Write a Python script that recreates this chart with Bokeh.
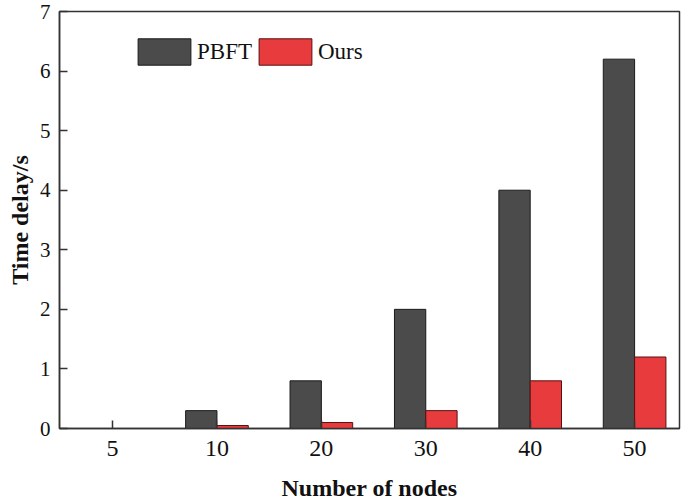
from bokeh.plotting import figure
from bokeh.models import Range1d, FixedTicker, Legend, LegendItem, ColumnDataSource
from bokeh.embed import file_html
from bokeh.resources import INLINE

categories = ["5", "10", "20", "30", "40", "50"]
pbft = [0.0, 0.3, 0.8, 2.0, 4.0, 6.2]
ours = [0.0, 0.05, 0.1, 0.3, 0.8, 1.2]
y_ticks = [0, 1, 2, 3, 4, 5, 6, 7]

idx = list(range(len(categories)))
bw = 0.3
src = ColumnDataSource(dict(
    xp=[i - bw / 2 for i in idx],
    xo=[i + bw / 2 for i in idx],
    pbft=pbft, ours=ours))

p = figure(width=681, height=504, output_backend="svg", toolbar_location=None,
           x_range=Range1d(-0.508, 5.43), y_range=Range1d(0, 7))
p.min_border_left = 59
p.min_border_right = 2
p.min_border_top = 11
p.min_border_bottom = 76
p.background_fill_color = "white"
p.border_fill_color = "white"
p.outline_line_color = "#333333"
p.outline_line_width = 1.5
p.xgrid.visible = False
p.ygrid.visible = False

r1 = p.vbar(x="xp", top="pbft", width=bw, bottom=0, source=src,
            fill_color="#4b4b4b", line_color="#1a1a1a", line_width=1)
r2 = p.vbar(x="xo", top="ours", width=bw, bottom=0, source=src,
            fill_color="#e83b3d", line_color="#5a1010", line_width=1)

font = "Liberation Serif"
for ax in (p.xaxis[0], p.yaxis[0]):
    ax.major_label_text_font = font
    ax.major_label_text_font_size = "24px"
    ax.major_label_text_color = "#111111"
    ax.axis_label_text_font = font
    ax.axis_label_text_font_size = "24px"
    ax.axis_label_text_font_style = "bold"
    ax.axis_label_text_color = "#111111"
    ax.axis_line_color = "#333333"
    ax.axis_line_width = 1.5
    ax.major_tick_line_color = "#333333"
    ax.major_tick_line_width = 1.5
    ax.major_tick_in = 8
    ax.major_tick_out = 0
    ax.minor_tick_line_color = None

p.yaxis.major_label_text_font_size = "21px"

p.xaxis.ticker = FixedTicker(ticks=idx)
p.xaxis.major_label_overrides = {i: c for i, c in zip(idx, categories)}
p.xaxis.axis_label = "Number of nodes"
p.xaxis.major_label_standoff = 12
p.xaxis.axis_label_standoff = 16

p.yaxis.ticker = FixedTicker(ticks=y_ticks)
p.yaxis.axis_label = "Time delay/s"
p.yaxis.major_label_standoff = 9
p.yaxis.axis_label_standoff = 4

legend = Legend(items=[LegendItem(label="PBFT", renderers=[r1]),
                       LegendItem(label="Ours", renderers=[r2])],
                orientation="horizontal", location=(72, 360),
                glyph_width=66, glyph_height=33, padding=0, margin=0,
                spacing=-4, label_standoff=0,
                label_text_font=font, label_text_font_size="23px",
                label_text_color="#111111",
                border_line_color=None, background_fill_alpha=0)
p.add_layout(legend)

open("out.html", "w").write(file_html(p, INLINE))
